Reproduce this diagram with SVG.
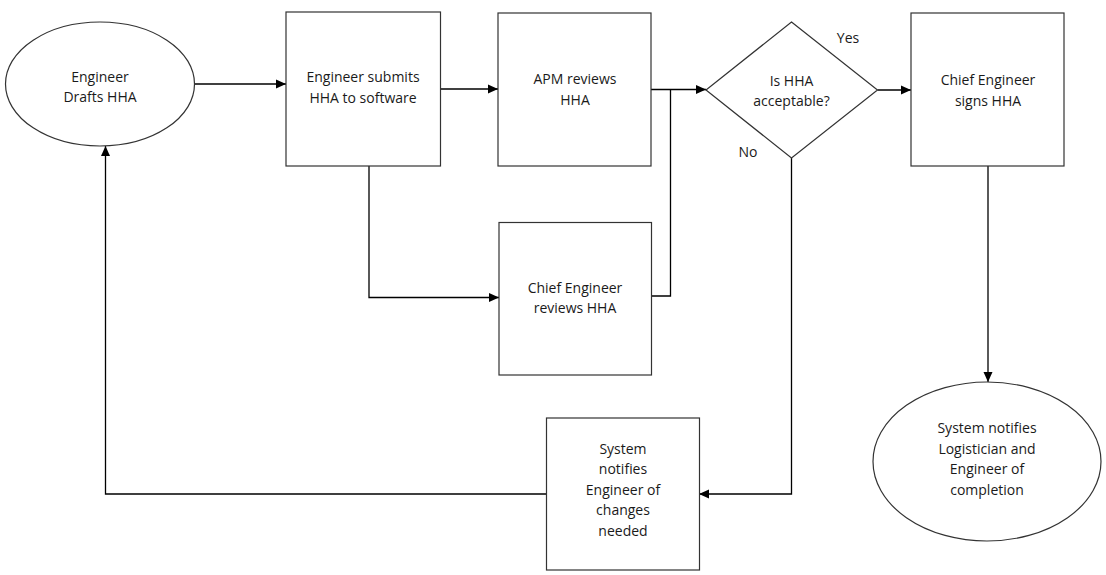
<svg xmlns="http://www.w3.org/2000/svg" width="1106" height="575" viewBox="0 0 1106 575">
<style>
.n{fill:#fff;stroke:#333;stroke-width:1.2}
.t{font-family:"Open Sans","Liberation Sans",sans-serif;font-size:14px;fill:#1a1a1a;text-anchor:middle}
.c{fill:none;stroke:#000;stroke-width:1.3}
</style>
<defs>
<marker id="ah" viewBox="0 0 10 10" refX="10" refY="5" markerWidth="10" markerHeight="10" markerUnits="userSpaceOnUse" orient="auto">
<path d="M0,0.5 L10,5 L0,9.5 Z" fill="#000"/>
</marker>
</defs>
<rect width="1106" height="575" fill="#fff"/>
<g id="connectors">
<path class="c" d="M195,84 H286" marker-end="url(#ah)"/>
<path class="c" d="M440,89 H498" marker-end="url(#ah)"/>
<path class="c" d="M651,89.5 H706" marker-end="url(#ah)"/>
<path class="c" d="M369,166 V297.5 H499" marker-end="url(#ah)"/>
<path class="c" d="M651,296 H670.5 V89.5"/>
<path class="c" d="M877.5,90 H911" marker-end="url(#ah)"/>
<path class="c" d="M988,166 V382" marker-end="url(#ah)"/>
<path class="c" d="M791.5,158 V494 H699" marker-end="url(#ah)"/>
<path class="c" d="M546.5,494 H105.5 V146" marker-end="url(#ah)"/>
</g>
<g id="engineer-drafts">
<ellipse class="n" cx="100" cy="84" rx="94.5" ry="62"/>
<text class="t" x="100" y="82">Engineer</text>
<text class="t" x="100" y="102">Drafts HHA</text>
</g>
<g id="engineer-submits">
<rect class="n" x="286" y="12" width="154.5" height="154"/>
<text class="t" x="363" y="82">Engineer submits</text>
<text class="t" x="363" y="103">HHA to software</text>
</g>
<g id="apm-reviews">
<rect class="n" x="498" y="13" width="153" height="153"/>
<text class="t" x="575" y="84">APM reviews</text>
<text class="t" x="575" y="105">HHA</text>
</g>
<g id="chief-reviews">
<rect class="n" x="499" y="222.5" width="152.5" height="152.5"/>
<text class="t" x="575" y="293">Chief Engineer</text>
<text class="t" x="575" y="313">reviews HHA</text>
</g>
<g id="decision">
<polygon class="n" points="791.5,22 877.5,90 791.5,158 706,90"/>
<text class="t" x="791.5" y="86">Is HHA</text>
<text class="t" x="791.5" y="106">acceptable?</text>
<text class="t" x="848" y="43">Yes</text>
<text class="t" x="748" y="157">No</text>
</g>
<g id="chief-signs">
<rect class="n" x="911" y="13" width="153" height="153"/>
<text class="t" x="988" y="85">Chief Engineer</text>
<text class="t" x="988" y="106">signs HHA</text>
</g>
<g id="system-notifies-changes">
<rect class="n" x="546.5" y="418" width="153" height="152"/>
<text class="t" x="623" y="454">System</text>
<text class="t" x="623" y="474">notifies</text>
<text class="t" x="623" y="495">Engineer of</text>
<text class="t" x="623" y="515">changes</text>
<text class="t" x="623" y="536">needed</text>
</g>
<g id="system-notifies-completion">
<ellipse class="n" cx="987" cy="461.5" rx="114" ry="79.5"/>
<text class="t" x="987" y="433">System notifies</text>
<text class="t" x="987" y="454">Logistician and</text>
<text class="t" x="987" y="474">Engineer of</text>
<text class="t" x="987" y="495">completion</text>
</g>
</svg>
